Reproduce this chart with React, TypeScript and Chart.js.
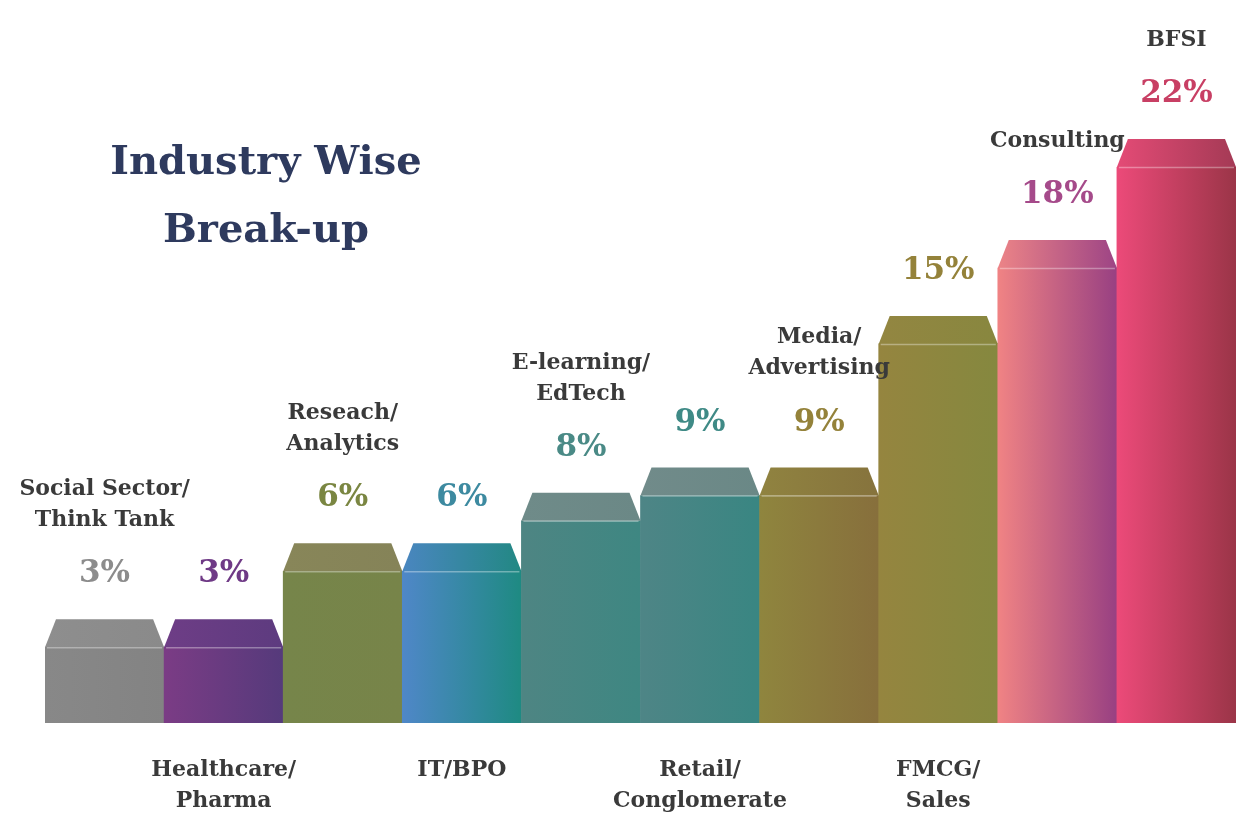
import { useEffect, useRef } from "react";
import { Chart, registerables } from "chart.js";
Chart.register(...registerables);

const categories: string[][] = [
  ["Social Sector/", "Think Tank"],
  ["Healthcare/", "Pharma"],
  ["Reseach/", "Analytics"],
  ["IT/BPO"],
  ["E-learning/", "EdTech"],
  ["Retail/", "Conglomerate"],
  ["Media/", "Advertising"],
  ["FMCG/", "Sales"],
  ["Consulting"],
  ["BFSI"],
];
const shares = [3, 3, 6, 6, 8, 9, 9, 15, 18, 22];
const titleLines = ["Industry Wise", "Break-up"];

const frontColors = [
  ["#888888", "#838383"],
  ["#7b3c85", "#553a7b"],
  ["#76854a", "#778449"],
  ["#4f87c8", "#1e8a82"],
  ["#4e8583", "#3e8782"],
  ["#4e8586", "#398682"],
  ["#8f853e", "#876f3c"],
  ["#95853f", "#85883f"],
  ["#f08384", "#984082"],
  ["#ec4a79", "#9b3548"],
];
const topColors = [
  ["#8e8e8e", "#8a8a8a"],
  ["#6e3d86", "#5d3b7f"],
  ["#888659", "#858358"],
  ["#4a86c0", "#228883"],
  ["#6f8b89", "#6b8886"],
  ["#718b8a", "#6a8886"],
  ["#908340", "#86733d"],
  ["#938641", "#88873f"],
  ["#ec8487", "#9d4485"],
  ["#e44b76", "#a43a55"],
];
const valueColors = [
  "#8c8c8c", "#6f3a86", "#7a8642", "#3d8aa0", "#4a8a86",
  "#3f8a86", "#94823a", "#94823a", "#a54a8a", "#c83f64",
];

const SERIF = '"DejaVu Serif", "Liberation Serif", serif';

export default function App() {
  const ref = useRef<HTMLCanvasElement | null>(null);
  useEffect(() => {
    const canvas = ref.current;
    if (!canvas) return;

    const grad = (chart: any, x0: number, x1: number, c: string[]) => {
      const g = chart.ctx.createLinearGradient(x0, 0, x1, 0);
      g.addColorStop(0, c[0]);
      g.addColorStop(1, c[1]);
      return g;
    };

    const depth = 28;
    const inset = 11;

    const deco = {
      id: "deco",
      afterDatasetsDraw(chart: any) {
        const ctx = chart.ctx;
        const meta = chart.getDatasetMeta(0);
        meta.data.forEach((el: any, i: number) => {
          const w = el.width;
          const l = el.x - w / 2;
          const r = el.x + w / 2;
          const y = el.y;
          ctx.save();
          ctx.beginPath();
          ctx.moveTo(l, y);
          ctx.lineTo(l + inset, y - depth);
          ctx.lineTo(r - inset, y - depth);
          ctx.lineTo(r, y);
          ctx.closePath();
          ctx.fillStyle = grad(chart, l, r, topColors[i]);
          ctx.fill();
          ctx.strokeStyle = "rgba(255,255,255,0.35)";
          ctx.lineWidth = 1.5;
          ctx.beginPath();
          ctx.moveTo(l + 2, y + 0.5);
          ctx.lineTo(r - 2, y + 0.5);
          ctx.stroke();
          ctx.restore();
        });
      },
      afterDraw(chart: any) {
        const ctx = chart.ctx;
        const meta = chart.getDatasetMeta(0);
        const base = chart.scales.y.getPixelForValue(0);
        ctx.save();
        ctx.textAlign = "center";
        ctx.textBaseline = "middle";
        // title
        ctx.fillStyle = "#2e3a5e";
        ctx.font = `bold 40px ${SERIF}`;
        titleLines.forEach((t, k) => ctx.fillText(t, 266, 164 + k * 68));
        const n = shares.length;
        meta.data.forEach((el: any, i: number) => {
          const x = el.x;
          const topY = el.y - depth;
          const vy = topY - 45;
          ctx.fillStyle = valueColors[i];
          ctx.font = `bold 31px ${SERIF}`;
          ctx.fillText(shares[i] + "%", x, vy);
          ctx.fillStyle = "#3a3a3a";
          ctx.font = `bold 22px ${SERIF}`;
          const lines = categories[i];
          const below = i % 2 === 1 && i < n - 1;
          if (below) {
            lines.forEach((t, k) => ctx.fillText(t, x, base + 47 + k * 31));
          } else {
            const lastY = vy - 54;
            lines.forEach((t, k) =>
              ctx.fillText(t, x, lastY - (lines.length - 1 - k) * 31)
            );
          }
        });
        ctx.restore();
      },
    };

    const chart = new Chart(canvas, {
      type: "bar",
      data: {
        labels: categories.map((c) => c.join(" ")),
        datasets: [
          {
            data: shares,
            barPercentage: 1,
            categoryPercentage: 1,
            borderWidth: 0,
            backgroundColor: (c: any) => {
              const chart = c.chart;
              const xs = chart.scales?.x;
              if (!chart.chartArea || !xs) return frontColors[c.dataIndex][0];
              const cx = xs.getPixelForValue(c.dataIndex);
              const half = (chart.chartArea.right - chart.chartArea.left) / shares.length / 2;
              return grad(chart, cx - half, cx + half, frontColors[c.dataIndex]);
            },
          },
        ],
      },
      options: {
        animation: false,
        responsive: true,
        maintainAspectRatio: false,
        layout: { padding: { left: 45, right: 0, top: 167, bottom: 90 } },
        plugins: { legend: { display: false }, tooltip: { enabled: false } },
        scales: {
          x: { display: false },
          y: { display: false, min: 0, max: 22 },
        },
      },
      plugins: [deco],
    });
    return () => chart.destroy();
  }, []);

  return (
    <div style={{ position: "fixed", left: 0, top: 0, width: 1236, height: 813, background: "#fff" }}>
      <canvas ref={ref} />
    </div>
  );
}
